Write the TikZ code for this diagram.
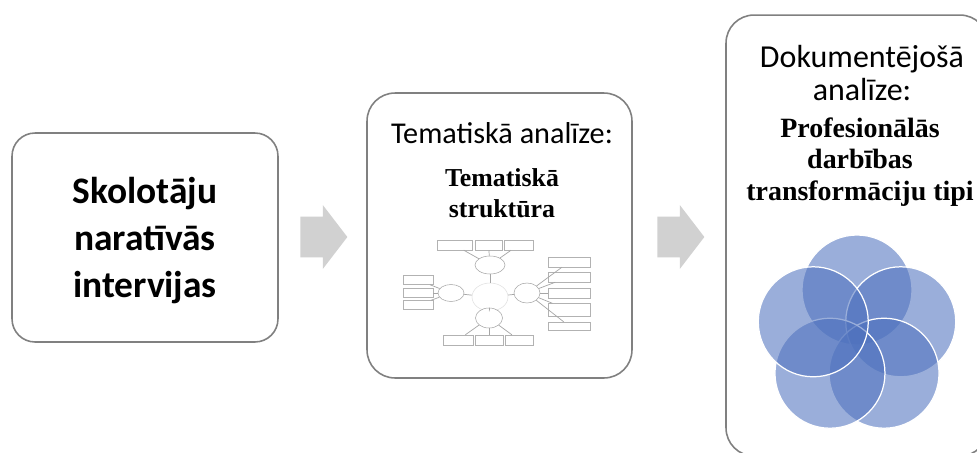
\documentclass[tikz,border=0pt]{standalone}
\usepackage{fontspec}
\setmainfont{Liberation Serif}
\setsansfont{Carlito}
\usetikzlibrary{positioning,shapes.geometric,shapes.arrows,backgrounds}

\definecolor{petalblue}{RGB}{79,114,190}

\begin{document}
\begin{tikzpicture}
[x=0.02cm,y=-0.02cm,
stage/.style={rectangle,draw=black!50,line width=0.9pt,rounded corners=0.56cm},
blockarrow/.style={single arrow,fill=black!18,draw=none,inner xsep=0pt,inner ysep=0.4cm,
  minimum height=0.94cm,single arrow head extend=0.23cm,single arrow tip angle=105},
petal/.style={fill=petalblue,fill opacity=0.57,draw=white,draw opacity=1,line width=0.7pt},
mmbox/.style={rectangle,draw=black!30,line width=0.3pt,fill=white,inner sep=0pt,minimum height=0.2cm},
mmoval/.style={ellipse,draw=black!35,line width=0.3pt,fill=white,inner sep=0pt},
mmlink/.style={draw=black!35,line width=0.4pt}]
\path[use as bounding box,fill=white] (0,0) rectangle (977,453);

% three stages
\node[stage,minimum width=5.32cm,minimum height=4.18cm,rounded corners=0.46cm] (interviews) at (145,237.5) {};
\node[stage,minimum width=5.3cm,minimum height=5.7cm] (thematic) at (499.5,235.5) {};
\node[stage,minimum width=5.24cm,minimum height=8.82cm] (documentary) at (857,235.5) {};
\node[font=\sffamily\bfseries\fontsize{21.3}{26.6}\selectfont,align=center,anchor=base]
  (interviews text) at (145,297) {Skolotāju\\naratīvās\\intervijas};

\node[blockarrow,anchor=tail] (arrow one) at (300,237) {};
\node[blockarrow,anchor=tail] (arrow two) at (657,237) {};

% middle stage
\node[font=\sffamily\fontsize{17.2}{20}\selectfont,anchor=base] (thematic title) at (502,143) {Tematiskā analīze:};
\node[font=\bfseries\fontsize{14.7}{17.3}\selectfont,align=center,anchor=base]
  (thematic structure) at (502,217) {Tematiskā\\struktūra};

% small mind map
\node[mmoval,draw=black!12,minimum width=0.72cm,minimum height=0.56cm] (mmc) at (490,297) {};
\node[mmoval,minimum width=0.6cm,minimum height=0.36cm] (mmt) at (490,265) {};
\node[mmoval,minimum width=0.52cm,minimum height=0.34cm] (mml) at (451,293) {};
\node[mmoval,minimum width=0.52cm,minimum height=0.4cm] (mmr) at (527,293) {};
\node[mmoval,minimum width=0.54cm,minimum height=0.4cm] (mmb) at (489,318) {};
\node[mmbox,minimum width=0.7cm] (ta) at (454.5,245) {};
\node[mmbox,minimum width=0.54cm] (tb) at (488.5,245) {};
\node[mmbox,minimum width=0.58cm] (tc) at (518.5,245) {};
\node[mmbox,minimum width=0.6cm,minimum height=0.18cm] (la) at (418,280) {};
\node[mmbox,minimum width=0.6cm,minimum height=0.18cm] (lb) at (418,293) {};
\node[mmbox,minimum width=0.6cm,minimum height=0.18cm] (lc) at (418,305) {};
\node[mmbox,minimum width=0.84cm] (ra) at (569,262) {};
\node[mmbox,minimum width=0.84cm] (rb) at (569,277) {};
\node[mmbox,minimum width=0.84cm] (rc) at (569,293) {};
\node[mmbox,minimum width=0.84cm,minimum height=0.26cm] (rd) at (569,310) {};
\node[mmbox,minimum width=0.84cm,minimum height=0.16cm] (re) at (569,326) {};
\node[mmbox,minimum width=0.6cm] (ba) at (458,340) {};
\node[mmbox,minimum width=0.56cm] (bb) at (489,340) {};
\node[mmbox,minimum width=0.56cm] (bc) at (519,340) {};
\foreach \a/\b in {mmc/mmt,mmc/mml,mmc/mmr,mmc/mmb,mmt/ta,mmt/tb,mmt/tc,
  mml/la,mml/lb,mml/lc,mmr/ra,mmr/rb,mmr/rc,mmr/rd,mmr/re,mmb/ba,mmb/bb,mmb/bc}
  \draw[mmlink] (\a) -- (\b);

% right stage
\node[font=\sffamily\fontsize{18.2}{18.7}\selectfont,align=center,anchor=base]
  (documentary title) at (862,100) {Dokumentējošā\\analīze:};
\node[font=\bfseries\fontsize{15.9}{17.9}\selectfont,align=center,anchor=base]
  (transformation types) at (860,200) {Profesionālās\\darbības\\transformāciju tipi};
\foreach \ang in {-90,-18,54,126,198}
  \filldraw[petal] (857,336) ++(\ang:46) circle (55);
\end{tikzpicture}
\end{document}
